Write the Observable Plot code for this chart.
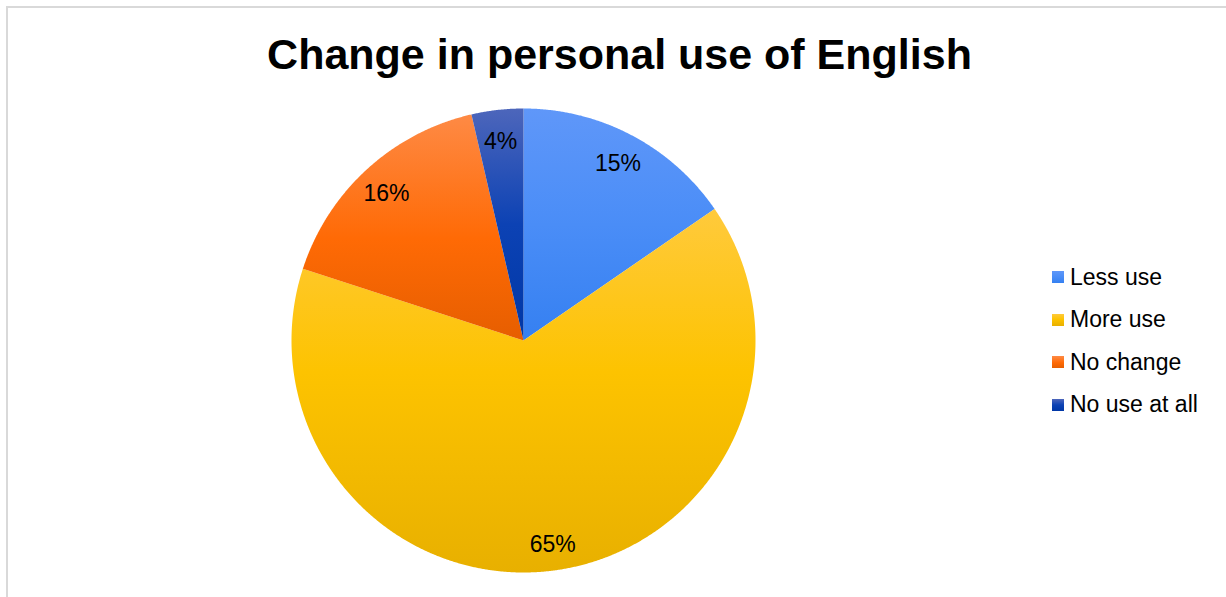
<!DOCTYPE html>
<html><head><meta charset="utf-8">
<script src="https://cdn.jsdelivr.net/npm/d3@7"></script>
<script src="https://cdn.jsdelivr.net/npm/@observablehq/plot@0.6"></script>
<style>
body{margin:0;background:#fff;font-family:"Liberation Sans",Arial,sans-serif;}
#wrap{position:relative;width:1226px;height:597px;overflow:hidden;background:#fff;}
#frame{position:absolute;left:6px;top:6px;width:1240px;height:620px;border-left:2px solid #d9d9d9;border-top:2px solid #d9d9d9;}
#chart{position:absolute;left:0;top:0;}
#legend{position:absolute;left:1052px;top:256px;}
.item{display:flex;align-items:center;height:42.5px;font-size:23px;color:#000;white-space:nowrap;}
.sw{width:12px;height:12px;margin-right:6px;flex:none;}
</style></head><body>
<div id="wrap"><div id="frame"></div><div id="chart"></div><div id="legend"></div></div>
<script>
// ---- data ----
const categories = ["Less use", "More use", "No change", "No use at all"];
const values = [15.4, 64.6, 16.4, 3.6];
const labels = ["15%", "65%", "16%", "4%"];
const title = "Change in personal use of English";

// ---- styles ----
const gradStops = [
  [[0, "#5f97f9"], [0.5, "#4a8df7"], [1, "#3580f1"]],
  [[0, "#ffca3c"], [0.45, "#fdc300"], [1, "#e8b000"]],
  [[0, "#fe8a45"], [0.55, "#ff6a05"], [1, "#e65e00"]],
  [[0, "#4d66bb"], [0.5, "#0c42b4"], [1, "#0037a6"]]
];

const total = d3.sum(values);
let acc = 0;
const slices = categories.map((c, i) => {
  const a0 = acc / total * 2 * Math.PI;
  acc += values[i];
  const a1 = acc / total * 2 * Math.PI;
  return {c, i, a0, a1, mid: (a0 + a1) / 2};
});

function polygon(s) {
  const pts = [{x: 0, y: 0}];
  const n = Math.max(2, Math.ceil((s.a1 - s.a0) / (Math.PI / 720)));
  for (let k = 0; k <= n; k++) {
    const a = s.a0 + (s.a1 - s.a0) * k / n;
    pts.push({x: Math.sin(a), y: Math.cos(a)});
  }
  pts.push({x: 0, y: 0});
  return pts;
}

const defsMark = () => {
  const defs = d3.create("svg:defs");
  gradStops.forEach((stops, i) => {
    const g = defs.append("linearGradient").attr("id", "g" + i)
      .attr("x1", 0).attr("y1", 0).attr("x2", 0).attr("y2", 1);
    stops.forEach(([o, c]) => g.append("stop").attr("offset", o).attr("stop-color", c));
  });
  return defs.node();
};

const labelData = slices.map(s => ({x: 0.875 * Math.sin(s.mid), y: 0.875 * Math.cos(s.mid), t: labels[s.i]}));

const plot = Plot.plot({
  width: 1226,
  height: 597,
  margin: 0,
  x: {domain: [-1, 1], range: [291, 755], axis: null},
  y: {domain: [-1, 1], range: [572, 108], axis: null},
  style: {background: "transparent", fontFamily: "'Liberation Sans', Arial, sans-serif"},
  marks: [
    defsMark,
    ...slices.map(s => Plot.line(polygon(s), {x: "x", y: "y", fill: `url(#g${s.i})`, stroke: "none", curve: "linear"})),
    Plot.text(labelData, {x: "x", y: "y", text: "t", fontSize: 23, fill: "#000", dy: 3}),
    Plot.text([title], {frameAnchor: "top", lineAnchor: "middle", dx: 6, dy: 55, fontSize: 43, fontWeight: "bold", fill: "#000"})
  ]
});
document.getElementById("chart").appendChild(plot);

const legend = document.getElementById("legend");
categories.forEach((c, i) => {
  const item = document.createElement("div");
  item.className = "item";
  const sw = document.createElement("div");
  sw.className = "sw";
  sw.style.background = `linear-gradient(to bottom, ${gradStops[i].map(([o, col]) => col + " " + (o * 100) + "%").join(", ")})`;
  const tx = document.createElement("span");
  tx.textContent = c;
  item.appendChild(sw);
  item.appendChild(tx);
  legend.appendChild(item);
});
</script>
</body></html>
